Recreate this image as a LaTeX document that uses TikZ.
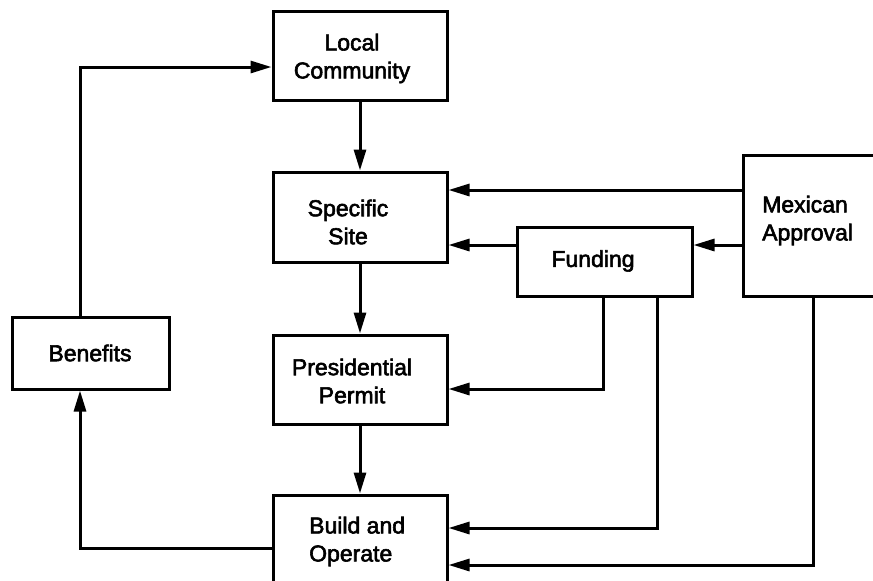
\documentclass[tikz,border=0pt]{standalone}
\usepackage{fontspec}
\setmainfont{Liberation Sans}
\newfontfamily\labelfont{Liberation Sans}[FakeBold=2.5]
\usetikzlibrary{arrows.meta}
\begin{document}
\begin{tikzpicture}[x=1pt,y=-1pt,
  box/.style={draw, line width=3pt, inner sep=0pt},
  txt/.style={inner sep=0pt, align=center,
    font=\labelfont\fontsize{23}{28}\selectfont},
  arr/.style={line width=3pt, -{Triangle[length=21pt,width=12pt]}}]
\useasboundingbox (0,0) rectangle (873,581);
\clip (0,0) rectangle (873,581);
\fill[white] (0,0) rectangle (873,581);

% process chain in the middle column
\node[box, minimum width=174pt, minimum height=89pt] (local)  at (360,55.5)  {};
\node[box, minimum width=174pt, minimum height=90pt] (site)   at (360,217)   {};
\node[box, minimum width=174pt, minimum height=89pt] (permit) at (360,379.5) {};
\node[box, minimum width=174pt, minimum height=89pt] (build)  at (360,539.5) {};

% side boxes
\node[box, minimum width=157pt, minimum height=72pt]  (ben)  at (90.5,353)    {};
\node[box, minimum width=175pt, minimum height=69pt]  (fund) at (604.5,261.5) {};
\node[box, minimum width=133pt, minimum height=141pt] (mex)  at (809.5,225.5) {};

% box labels
\node[txt] (localtext)  at (352,58.5)  {Local\\Community};
\node[txt] (sitetext)   at (348,222) {Specific\\Site};
\node[txt] (permittext) at (352,381) {Presidential\\Permit};
\node[txt, align=left, anchor=west] (buildtext) at (309,541.5) {Build and\\Operate};
\node[txt] (bentext)  at (90,353)  {Benefits};
\node[txt] (fundtext) at (593,261) {Funding};
\node[txt, align=left, anchor=west] (mextext) at (762,220.5) {Mexican\\Approval};

% connectors
\draw[arr] (local) -- (site);
\draw[arr] (site) -- (permit);
\draw[arr] (permit) -- (build);
\draw[arr] (mex.west |- 0,190) -- (site.east |- 0,190);
\draw[arr] (fund.west |- 0,245) -- (site.east |- 0,245);
\draw[arr] (mex.west |- 0,245) -- (fund.east |- 0,245);
\draw[arr] (fund.south -| 603,0) |- (permit.east |- 0,389);
\draw[arr] (fund.south -| 657,0) |- (build.east |- 0,528);
\draw[arr] (mex.south -| 813,0) |- (build.east |- 0,565);
\draw[arr] (build.west |- 0,548) -| (ben.south -| 80,0);
\draw[arr] (ben.north -| 80,0) |- (local.west |- 0,67);
\end{tikzpicture}
\end{document}
